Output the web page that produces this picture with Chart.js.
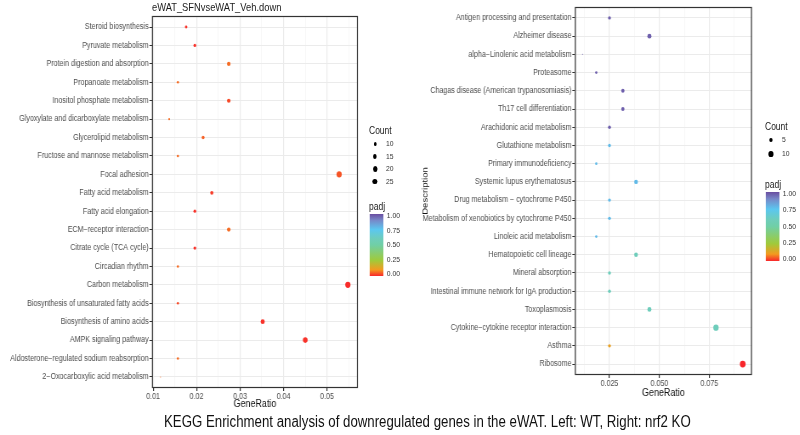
<!DOCTYPE html>
<html>
<head>
<meta charset="utf-8">
<script src="https://cdn.jsdelivr.net/npm/chart.js@4.4.1/dist/chart.umd.min.js"></script>
<style>
  html, body { margin: 0; background: #fff; overflow: hidden; font-family: "Liberation Sans", Arial, sans-serif; }
  #page { position: relative; height: 435px; transform-origin: 0 0; }
  canvas, .txt, .bar, .dot { position: absolute; }
  .txt { white-space: nowrap; color: #1a1a1a; }
  .lg { font-size: 10px; }
  .lbl { font-size: 8px; color: #333; line-height: 8px; }
  .dot { background: #000; border-radius: 50%; }
</style>
</head>
<body>
<div id="page">
  <div id="title" class="txt" style="top:1px; font-size:11px;">eWAT_SFNvseWAT_Veh.down</div>
  <canvas id="leftChart"></canvas>
  <canvas id="rightChart"></canvas>
  <div id="legends"></div>
  <div id="caption" class="txt" style="top:413px; font-size:15.6px; color:#111;">KEGG Enrichment analysis of downregulated genes in the eWAT. Left: WT, Right: nrf2 KO</div>
</div>
<script>
// 左图：WT（从上到下）
const leftPathways = [
    'Steroid biosynthesis', 'Pyruvate metabolism', 'Protein digestion and absorption',
    'Propanoate metabolism', 'Inositol phosphate metabolism', 'Glyoxylate and dicarboxylate metabolism',
    'Glycerolipid metabolism', 'Fructose and mannose metabolism', 'Focal adhesion',
    'Fatty acid metabolism', 'Fatty acid elongation', 'ECM\u2212receptor interaction',
    'Citrate cycle (TCA cycle)', 'Circadian rhythm', 'Carbon metabolism',
    'Biosynthesis of unsaturated fatty acids', 'Biosynthesis of amino acids', 'AMPK signaling pathway',
    'Aldosterone\u2212regulated sodium reabsorption', '2\u2212Oxocarboxylic acid metabolism'
];
const leftRatio = [0.0176, 0.0196, 0.0274, 0.0157, 0.0274, 0.0137, 0.0215, 0.0157, 0.0528, 0.0235,
                   0.0196, 0.0274, 0.0196, 0.0157, 0.0548, 0.0157, 0.0352, 0.0450, 0.0157, 0.0117];
const leftCount = [9, 10, 14, 8, 14, 7, 11, 8, 27, 12, 10, 14, 10, 8, 28, 8, 18, 23, 8, 6];
const leftPadj = [0.01, 0.01, 0.06, 0.06, 0.03, 0.06, 0.05, 0.06, 0.04, 0.02,
                  0.01, 0.06, 0.01, 0.06, 0.005, 0.03, 0.01, 0.01, 0.06, 0.06];
const leftXTicks = [0.01, 0.02, 0.03, 0.04, 0.05];
const leftCountBreaks = [10, 15, 20, 25];

// 右图：nrf2 KO（从上到下）
const rightPathways = [
    'Antigen processing and presentation', 'Alzheimer disease', 'alpha\u2212Linolenic acid metabolism',
    'Proteasome', 'Chagas disease (American trypanosomiasis)', 'Th17 cell differentiation',
    'Arachidonic acid metabolism', 'Glutathione metabolism', 'Primary immunodeficiency',
    'Systemic lupus erythematosus', 'Drug metabolism \u2212 cytochrome P450',
    'Metabolism of xenobiotics by cytochrome P450', 'Linoleic acid metabolism',
    'Hematopoietic cell lineage', 'Mineral absorption', 'Intestinal immune network for IgA production',
    'Toxoplasmosis', 'Cytokine\u2212cytokine receptor interaction', 'Asthma', 'Ribosome'
];
const rightRatio = [0.025, 0.045, 0.0115, 0.0184, 0.0317, 0.0317, 0.025, 0.025, 0.0184, 0.0383,
                    0.025, 0.025, 0.0184, 0.0383, 0.025, 0.025, 0.045, 0.0783, 0.025, 0.0917];
const rightCount = [4, 7, 2, 3, 5, 5, 4, 4, 3, 6, 4, 4, 3, 6, 4, 4, 7, 12, 4, 14];
const rightPadj = [0.97, 0.97, 0.97, 0.97, 0.97, 0.97, 0.97, 0.78, 0.78, 0.78,
                   0.78, 0.78, 0.78, 0.6, 0.6, 0.6, 0.6, 0.6, 0.12, 0.0];
const rightXTicks = [0.025, 0.050, 0.075];
const rightCountBreaks = [5, 10];

const padjTicks = [1.00, 0.75, 0.50, 0.25, 0.00];

// padj 颜色刻度
const padjStops = [
    [0, '#f8262b'], [0.1, '#f39a1f'], [0.25, '#a0ca3a'], [0.5, '#70cfa6'],
    [0.6, '#6ecdbb'], [0.75, '#5bc7f0'], [0.9, '#7788c8'], [1, '#6a4da0']
];

// 原图文字横向偏窄：整页按比例横向压缩
const SQUEEZE = 0.85;
const sx = x => x / SQUEEZE;

function hexToRgb(h) {
    return [1, 3, 5].map(i => parseInt(h.slice(i, i + 2), 16));
}

function padjColor(p) {
    for (let i = 1; i < padjStops.length; i++) {
        const [p0, c0] = padjStops[i - 1];
        const [p1, c1] = padjStops[i];
        if (p <= p1) {
            const t = (p - p0) / (p1 - p0);
            const a = hexToRgb(c0), b = hexToRgb(c1);
            const m = a.map((v, k) => Math.round(v + (b[k] - v) * t));
            return `rgb(${m[0]}, ${m[1]}, ${m[2]})`;
        }
    }
    return padjStops[padjStops.length - 1][1];
}

// 点大小（面积比例，类似 ggplot scale_size）
function sizeFn(cmin, cmax, rmin, rmax) {
    return c => rmin + (rmax - rmin) * Math.sqrt(Math.max(0, (c - cmin) / (cmax - cmin)));
}

// 面板边框
const boxPlugin = {
    id: 'box',
    afterDraw(chart) {
        const { ctx, chartArea: a } = chart;
        ctx.save();
        ctx.strokeStyle = '#333';
        ctx.lineWidth = 1.2;
        ctx.strokeRect(a.left + 0.5, a.top + 0.5, a.right - a.left - 1, a.bottom - a.top - 1);
        ctx.restore();
    }
};

function makeChart(id, cfg) {
    const canvas = document.getElementById(id);
    // 画布位置与尺寸（参考图像素 -> 压缩前坐标）
    const left = sx(cfg.canvasX);
    const plotL = sx(cfg.plotL), plotR = sx(cfg.plotR);
    const width = Math.round(plotR - left + 4);
    canvas.width = width;
    canvas.height = cfg.height;
    canvas.style.left = left + 'px';
    canvas.style.top = '0px';

    const n = cfg.pathways.length;
    const radius = sizeFn(cfg.cmin, cfg.cmax, cfg.rmin, cfg.rmax);
    const points = cfg.pathways.map((p, i) => ({ x: cfg.ratio[i], y: i, r: radius(cfg.count[i]) }));
    const colors = cfg.padj.map(padjColor);
    const step = cfg.xTicks[1] - cfg.xTicks[0];

    return new Chart(canvas, {
        type: 'bubble',
        data: {
            datasets: [{
                data: points,
                backgroundColor: colors,
                borderWidth: 0,
                hoverBorderWidth: 0
            }]
        },
        plugins: [boxPlugin],
        options: {
            responsive: false,
            animation: false,
            layout: { padding: { top: cfg.top, right: width - (plotR - left), left: 0, bottom: 0 } },
            plugins: { legend: { display: false }, tooltip: { enabled: false } },
            scales: {
                x: {
                    type: 'linear',
                    min: cfg.xmin,
                    max: cfg.xmax,
                    afterBuildTicks(scale) {
                        const ticks = [];
                        for (let v = cfg.xTicks[0] - step / 2; v <= cfg.xmax + 1e-9; v += step / 2) {
                            if (v < cfg.xmin) continue;
                            const major = cfg.xTicks.some(t => Math.abs(t - v) < 1e-9);
                            ticks.push({ value: v, minor: !major });
                        }
                        scale.ticks = ticks;
                    },
                    afterFit(scale) { scale.height = cfg.height - cfg.plotB; },
                    border: { display: false },
                    grid: {
                        color: c => c.tick && c.tick.minor ? '#f3f3f3' : '#ebebeb',
                        lineWidth: c => c.tick && c.tick.minor ? 0.7 : 1.2,
                        tickColor: c => c.tick && c.tick.minor ? 'rgba(0,0,0,0)' : '#333',
                        tickLength: 3
                    },
                    ticks: {
                        autoSkip: false,
                        maxRotation: 0,
                        padding: 1,
                        color: '#4d4d4d',
                        font: { family: 'Liberation Sans', size: 8.4 },
                        callback: (v, i, ticks) => ticks[i].minor ? '' : v.toFixed(cfg.digits)
                    },
                    title: {
                        display: true,
                        text: 'GeneRatio',
                        color: '#111',
                        padding: { top: 0, bottom: cfg.xTitlePad },
                        font: { family: 'Liberation Sans', size: 10.5 }
                    }
                },
                y: {
                    type: 'linear',
                    reverse: true,
                    min: -0.6,
                    max: n - 0.4,
                    afterBuildTicks(scale) {
                        scale.ticks = cfg.pathways.map((_, i) => ({ value: i }));
                    },
                    afterFit(scale) { scale.width = plotL - left; },
                    border: { display: false },
                    grid: { color: '#ebebeb', lineWidth: 1, tickColor: '#333', tickLength: 3 },
                    ticks: {
                        autoSkip: false,
                        padding: 1,
                        color: '#4d4d4d',
                        font: { family: 'Liberation Sans', size: 8.4 },
                        callback: (v, i) => cfg.pathways[i]
                    },
                    title: {
                        display: cfg.yTitle,
                        text: 'Description',
                        color: '#111',
                        padding: { top: 1, bottom: 0 },
                        font: { family: 'Liberation Sans', size: 9.5 }
                    }
                }
            }
        }
    });
}

// 图例（Count 与 padj 色条）
function addLegend(lg) {
    const root = document.getElementById('legends');
    const radius = sizeFn(lg.cmin, lg.cmax, lg.rmin, lg.rmax);
    const x = sx(lg.x);
    let html = `<div class="txt lg" style="left:${x}px; top:${lg.countY}px;">Count</div>`;
    lg.breaks.forEach((b, i) => {
        const r = radius(b);
        const cy = lg.countY + 19 + i * lg.dotGap;
        html += `<div class="dot" style="left:${x + 7 - r}px; top:${cy - r}px; width:${2 * r}px; height:${2 * r}px;"></div>`;
        html += `<div class="txt lbl" style="left:${x + 20}px; top:${cy - 4}px;">${b}</div>`;
    });
    html += `<div class="txt lg" style="left:${x}px; top:${lg.padjY}px;">padj</div>`;
    const grad = padjStops.map(([p, c]) => `${c} ${p * 100}%`).join(', ');
    const barTop = lg.padjY + 13;
    html += `<div class="bar" style="left:${x + 1}px; top:${barTop}px; width:16px; height:${lg.barH}px; background: linear-gradient(to top, ${grad});"></div>`;
    padjTicks.forEach(t => {
        const cy = barTop + 2 + (1 - t) * (lg.barH - 4);
        html += `<div class="txt lbl" style="left:${x + 21}px; top:${cy - 4}px;">${t.toFixed(2)}</div>`;
    });
    root.insertAdjacentHTML('beforeend', html);
}

window.addEventListener('DOMContentLoaded', () => {
    const page = document.getElementById('page');
    page.style.width = sx(800) + 'px';
    page.style.transform = `scaleX(${SQUEEZE})`;
    document.getElementById('title').style.left = sx(152) + 'px';
    document.getElementById('caption').style.left = sx(164) + 'px';

    makeChart('leftChart', {
        pathways: leftPathways, ratio: leftRatio, count: leftCount, padj: leftPadj,
        xTicks: leftXTicks, xmin: 0.00975, xmax: 0.0571, digits: 2,
        cmin: 6, cmax: 28, rmin: 0.5, rmax: 3.1,
        canvasX: 0, plotL: 152, plotR: 358, top: 16, plotB: 388, height: 414,
        xTitlePad: 4, yTitle: false
    });
    makeChart('rightChart', {
        pathways: rightPathways, ratio: rightRatio, count: rightCount, padj: rightPadj,
        xTicks: rightXTicks, xmin: 0.0077, xmax: 0.0963, digits: 3,
        cmin: 2, cmax: 14, rmin: 0.5, rmax: 3.4,
        canvasX: 420, plotL: 575, plotR: 752, top: 7, plotB: 375, height: 401,
        xTitlePad: 2, yTitle: true
    });
    addLegend({ x: 369, countY: 125, breaks: leftCountBreaks, dotGap: 12.5, cmin: 6, cmax: 28, rmin: 0.5, rmax: 3.1, padjY: 201, barH: 62 });
    addLegend({ x: 765, countY: 121, breaks: rightCountBreaks, dotGap: 14, cmin: 2, cmax: 14, rmin: 0.5, rmax: 3.4, padjY: 179, barH: 69 });
});
</script>
</body>
</html>
